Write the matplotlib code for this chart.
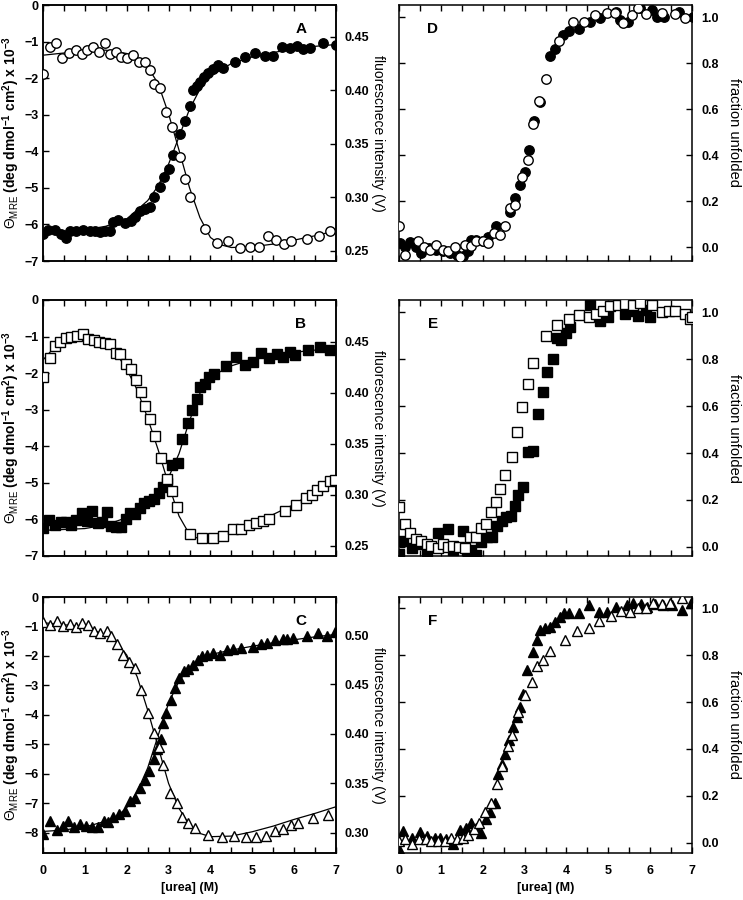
import numpy as np
import matplotlib
matplotlib.use("Agg")
import matplotlib.pyplot as plt

plt.rcParams['font.family'] = ['Liberation Sans', 'DejaVu Sans']
plt.rcParams['mathtext.fontset'] = 'custom'
plt.rcParams['mathtext.rm'] = 'Liberation Sans:bold'
plt.rcParams['mathtext.it'] = 'Liberation Sans:bold'
plt.rcParams['mathtext.sf'] = 'Liberation Sans'
plt.rcParams['axes.linewidth'] = 1.1

# ---------------- data ----------------
# panel A : filled circles (CD, left axis), open circles (fluorescence, right axis)
a_fill_x = [0.0, 0.12, 0.28, 0.44, 0.56, 0.65, 0.8, 0.96, 1.12, 1.24, 1.36, 1.47, 1.59, 1.67, 1.79,
            1.95, 2.11, 2.19, 2.31, 2.43, 2.55, 2.66, 2.79, 2.89, 3.01, 3.11, 3.27, 3.4, 3.51, 3.59,
            3.67, 3.75, 3.84, 3.95, 4.07, 4.19, 4.3, 4.58, 4.82, 5.06, 5.3, 5.5, 5.7, 5.9, 6.06,
            6.22, 6.38, 6.7, 7.0]
a_fill_y = [-6.27, -6.16, -6.16, -6.25, -6.36, -6.17, -6.17, -6.16, -6.17, -6.19, -6.22, -6.17, -6.17,
            -5.92, -5.88, -5.95, -5.9, -5.81, -5.62, -5.58, -5.53, -5.24, -4.98, -4.71, -4.48, -4.09,
            -3.54, -3.17, -2.77, -2.33, -2.22, -2.1, -1.96, -1.85, -1.76, -1.64, -1.73, -1.55, -1.43,
            -1.3, -1.39, -1.39, -1.14, -1.18, -1.13, -1.2, -1.18, -1.05, -1.09]
a_open_x = [0.0, 0.16, 0.32, 0.46, 0.62, 0.78, 0.92, 1.05, 1.2, 1.34, 1.48, 1.59, 1.75, 1.87, 2.01,
            2.15, 2.3, 2.43, 2.55, 2.65, 2.79, 2.93, 3.09, 3.27, 3.39, 3.52, 3.87, 4.16, 4.43, 4.7,
            4.94, 5.17, 5.38, 5.56, 5.76, 5.92, 6.3, 6.6, 6.86]
a_open_y = [0.415, 0.4406, 0.4444, 0.4306, 0.435, 0.4375, 0.4338, 0.4375, 0.44, 0.4359, 0.4438, 0.4338,
            0.4359, 0.4313, 0.4306, 0.4328, 0.4266, 0.4266, 0.4194, 0.4063, 0.4025, 0.3797, 0.3656,
            0.3375, 0.3172, 0.30, 0.2703, 0.2569, 0.2588, 0.2531, 0.2538, 0.2538, 0.2641, 0.26,
            0.2563, 0.2594, 0.2609, 0.2641, 0.2681]
a_fitf_x = [0.0, 1.0, 1.5, 2.0, 2.5, 2.75, 3.0, 3.25, 3.5, 3.75, 4.0, 4.5, 5.0, 5.5, 6.0, 6.5, 7.0]
a_fitf_y = [-6.22, -6.15, -6.05, -5.85, -5.35, -4.95, -4.35, -3.6, -2.85, -2.3, -1.95, -1.6, -1.42,
            -1.3, -1.2, -1.13, -1.08]
a_fito_x = [0.0, 1.0, 1.5, 2.0, 2.5, 2.75, 3.0, 3.25, 3.5, 3.75, 4.0, 4.25, 4.5, 5.0, 5.5, 6.0, 6.5, 7.0]
a_fito_y = [0.4328, 0.4369, 0.4375, 0.4344, 0.4219, 0.4063, 0.378, 0.344, 0.309, 0.281, 0.2625,
            0.2556, 0.2531, 0.2538, 0.2563, 0.26, 0.2641, 0.2688]

# panel B : filled squares (left axis), open squares (right axis)
b_fill_x = [0.0, 0.14, 0.28, 0.44, 0.56, 0.68, 0.8, 0.92, 1.05, 1.18, 1.32, 1.42, 1.53, 1.63, 1.75,
            1.87, 1.98, 2.09, 2.19, 2.31, 2.41, 2.54, 2.65, 2.78, 2.87, 2.97, 3.09, 3.23, 3.33, 3.47,
            3.57, 3.67, 3.76, 3.87, 3.97, 4.08, 4.37, 4.61, 4.82, 5.02, 5.22, 5.41, 5.58, 5.73,
            5.89, 6.02, 6.34, 6.62, 6.86]
b_fill_y = [-6.24, -6.02, -6.15, -6.06, -6.08, -6.15, -6.02, -5.83, -6.03, -5.77, -6.11, -6.06, -5.81,
            -6.18, -6.2, -6.22, -6.0, -5.83, -5.85, -5.7, -5.56, -5.49, -5.45, -5.27, -5.1, -5.0,
            -4.51, -4.47, -3.81, -3.37, -3.0, -2.72, -2.37, -2.29, -2.1, -2.01, -1.81, -1.55, -1.78,
            -1.69, -1.44, -1.59, -1.47, -1.57, -1.41, -1.5, -1.37, -1.29, -1.38]
b_open_x = [0.0, 0.16, 0.28, 0.41, 0.54, 0.68, 0.81, 0.96, 1.08, 1.21, 1.34, 1.48, 1.61, 1.74, 1.85,
            1.98, 2.11, 2.22, 2.33, 2.43, 2.55, 2.67, 2.83, 2.97, 3.09, 3.21, 3.52, 3.79, 4.07, 4.31,
            4.53, 4.74, 4.93, 5.09, 5.26, 5.41, 5.78, 6.04, 6.28, 6.42, 6.54, 6.68, 6.86, 6.98]
b_open_y = [0.4152, 0.4337, 0.4458, 0.45, 0.4533, 0.4549, 0.4559, 0.4572, 0.4523, 0.4516, 0.45, 0.449,
            0.4477, 0.4393, 0.438, 0.4282, 0.423, 0.412, 0.4012, 0.3872, 0.3742, 0.358, 0.3362,
            0.3157, 0.3037, 0.2884, 0.2614, 0.2581, 0.2581, 0.2598, 0.2663, 0.2669, 0.2702, 0.2721,
            0.2744, 0.2767, 0.2841, 0.2897, 0.2972, 0.3004, 0.3046, 0.3092, 0.3134, 0.3144]
b_fitf_x = [0.0, 1.0, 1.5, 2.0, 2.5, 2.75, 3.0, 3.25, 3.5, 3.75, 4.0, 4.5, 5.0, 5.5, 6.0, 6.5, 7.0]
b_fitf_y = [-6.3, -6.25, -6.15, -5.95, -5.6, -5.3, -4.85, -4.2, -3.3, -2.55, -2.1, -1.8, -1.62, -1.5,
            -1.43, -1.37, -1.33]
b_fito_x = [0.0, 0.25, 0.5, 0.75, 1.0, 1.25, 1.5, 1.75, 2.0, 2.25, 2.5, 2.75, 3.0, 3.25, 3.5, 3.75,
            4.0, 4.5, 5.0, 5.5, 6.0, 6.5, 7.0]
b_fito_y = [0.4321, 0.4435, 0.451, 0.4549, 0.4559, 0.4533, 0.4484, 0.4386, 0.423, 0.4028, 0.3752,
            0.3443, 0.3102, 0.2793, 0.2614, 0.2565, 0.2572, 0.2646, 0.2728, 0.2809, 0.2907, 0.3037,
            0.3157]

# panel C : filled triangles (left axis), open triangles (right axis)
c_fill_x = [0.0, 0.16, 0.33, 0.48, 0.6, 0.73, 0.88, 1.02, 1.16, 1.32, 1.45, 1.55, 1.67, 1.82, 1.95,
            2.07, 2.19, 2.31, 2.43, 2.54, 2.65, 2.73, 2.83, 2.87, 2.95, 3.05, 3.15, 3.25, 3.37, 3.47,
            3.59, 3.71, 3.81, 3.92, 4.07, 4.23, 4.39, 4.55, 4.74, 5.02, 5.2, 5.34, 5.54, 5.73, 5.84,
            5.98, 6.3, 6.58, 6.79, 6.98]
c_fill_y = [-8.02, -7.58, -7.91, -7.75, -7.58, -7.8, -7.69, -7.75, -7.8, -7.8, -7.61, -7.64, -7.47,
            -7.36, -7.25, -6.92, -6.81, -6.48, -6.21, -5.91, -5.49, -5.16, -4.81, -4.28, -3.95,
            -3.49, -3.07, -2.74, -2.52, -2.43, -2.3, -2.13, -1.99, -1.95, -1.91, -1.97, -1.8, -1.75,
            -1.72, -1.69, -1.58, -1.55, -1.47, -1.42, -1.44, -1.39, -1.31, -1.22, -1.33, -1.17]
c_open_x = [0.0, 0.16, 0.33, 0.48, 0.64, 0.8, 0.94, 1.08, 1.21, 1.36, 1.52, 1.63, 1.77, 1.91, 2.06,
            2.19, 2.35, 2.51, 2.65, 2.78, 2.87, 3.03, 3.19, 3.33, 3.47, 3.63, 3.95, 4.27, 4.56, 4.85,
            5.09, 5.33, 5.54, 5.74, 5.92, 6.1, 6.46, 6.82]
c_open_y = [0.5135, 0.5101, 0.5145, 0.5091, 0.5111, 0.5084, 0.5118, 0.5101, 0.5044, 0.5024, 0.5044,
            0.499, 0.4909, 0.4798, 0.473, 0.4663, 0.4443, 0.4207, 0.4005, 0.3863, 0.3685, 0.3398,
            0.3304, 0.3162, 0.3101, 0.3044, 0.2976, 0.2953, 0.2966, 0.2953, 0.296, 0.2966, 0.302,
            0.3034, 0.3078, 0.3101, 0.3145, 0.3179]
c_fitf_x = [0.0, 0.5, 1.0, 1.5, 1.75, 2.0, 2.25, 2.5, 2.75, 3.0, 3.25, 3.5, 3.75, 4.0, 4.5, 5.0, 5.5,
            6.0, 6.5, 7.0]
c_fitf_y = [-7.95, -7.9, -7.8, -7.6, -7.45, -7.15, -6.6, -5.8, -4.7, -3.6, -2.85, -2.4, -2.1, -1.95,
            -1.8, -1.67, -1.55, -1.45, -1.35, -1.27]
c_fito_x = [0.0, 1.0, 1.5, 1.75, 2.0, 2.25, 2.5, 2.75, 3.0, 3.25, 3.5, 3.75, 4.0, 4.5, 5.0, 5.5, 6.0,
            6.5, 7.0]
c_fito_y = [0.5125, 0.5084, 0.50, 0.4933, 0.4798, 0.4578, 0.4241, 0.387, 0.3499, 0.3246, 0.3078,
            0.2993, 0.296, 0.2966, 0.301, 0.3067, 0.3135, 0.3196, 0.3263]

# panel D : fraction unfolded, circles
d_fill_x = [0.02, 0.14, 0.26, 0.4, 0.53, 0.72, 0.88, 1.04, 1.21, 1.39, 1.53, 1.65, 1.73, 1.85, 2.01,
            2.13, 2.31, 2.65, 2.77, 2.89, 3.01, 3.11, 3.22, 3.37, 3.61, 3.73, 3.93, 4.05, 4.29, 4.57,
            4.8, 5.19, 5.27, 5.48, 5.76, 6.04, 6.16, 6.32, 6.68, 7.02]
d_fill_y = [0.019, 0.0, 0.023, 0.0, -0.024, -0.003, -0.01, -0.017, -0.024, -0.032, -0.039, -0.017,
            0.033, 0.033, 0.026, 0.047, 0.091, 0.155, 0.213, 0.27, 0.328, 0.421, 0.55, 0.632, 0.833,
            0.862, 0.924, 0.938, 0.948, 0.981, 0.996, 1.024, 0.989, 0.981, 1.039, 1.032, 1.0, 1.003,
            1.024, 1.0]
d_open_x = [0.0, 0.14, 0.45, 0.59, 0.75, 0.89, 1.04, 1.17, 1.33, 1.45, 1.57, 1.73, 1.85, 2.0, 2.13,
            2.27, 2.41, 2.53, 2.65, 2.77, 2.93, 3.09, 3.21, 3.35, 3.51, 3.83, 4.15, 4.42, 4.68, 4.96,
            5.16, 5.36, 5.56, 5.72, 5.91, 6.28, 6.6, 6.84]
d_open_y = [0.095, -0.034, 0.026, 0.0, -0.01, 0.011, -0.01, -0.017, 0.0, -0.043, 0.009, 0.004, 0.029,
            0.029, 0.019, 0.062, 0.055, 0.091, 0.17, 0.184, 0.306, 0.378, 0.536, 0.637, 0.73, 0.895,
            0.981, 0.981, 1.01, 1.017, 1.02, 0.974, 1.01, 1.039, 1.014, 1.017, 1.014, 0.996]

# panel E : fraction unfolded, squares
e_fill_x = [0.0, 0.1, 0.3, 0.49, 0.67, 0.93, 1.17, 1.29, 1.52, 1.65, 1.73, 1.85, 1.97, 2.11, 2.23,
            2.33, 2.45, 2.55, 2.67, 2.77, 2.85, 2.97, 3.09, 3.21, 3.33, 3.43, 3.54, 3.67, 3.77, 3.86,
            3.99, 4.09, 4.56, 4.8, 5.0, 5.4, 5.6, 5.72, 5.9, 6.0]
e_fill_y = [-0.031, 0.023, -0.003, 0.011, -0.017, 0.061, 0.076, -0.014, 0.066, -0.031, -0.014, -0.034,
            0.019, 0.043, 0.043, 0.09, 0.111, 0.126, 0.133, 0.175, 0.223, 0.254, 0.404, 0.411, 0.565,
            0.66, 0.746, 0.803, 0.889, 0.882, 0.913, 0.939, 1.031, 0.964, 0.981, 0.993, 1.007, 0.984,
            1.01, 0.981]
e_open_x = [0.0, 0.14, 0.26, 0.4, 0.53, 0.67, 0.77, 0.93, 1.05, 1.17, 1.29, 1.44, 1.57, 1.69, 1.84,
            1.97, 2.09, 2.19, 2.31, 2.41, 2.53, 2.69, 2.81, 2.95, 3.09, 3.21, 3.51, 3.78, 4.07, 4.31,
            4.53, 4.71, 4.88, 5.04, 5.24, 5.4, 5.59, 5.76, 6.04, 6.28, 6.44, 6.6, 6.84, 6.96, 7.0]
e_open_y = [0.168, 0.097, 0.057, 0.033, 0.023, 0.011, 0.004, -0.003, 0.011, 0.0, 0.004, 0.0, -0.003,
            0.043, 0.04, 0.08, 0.097, 0.147, 0.19, 0.247, 0.308, 0.385, 0.489, 0.596, 0.693, 0.785,
            0.899, 0.946, 0.97, 0.989, 0.981, 0.993, 1.007, 1.027, 1.031, 1.036, 1.031, 1.041, 1.031,
            1.003, 1.007, 1.007, 0.993, 0.97, 0.979]

# panel F : fraction unfolded, triangles
f_fill_x = [0.0, 0.1, 0.3, 0.49, 0.67, 0.85, 0.97, 1.13, 1.29, 1.45, 1.61, 1.73, 1.85, 1.97, 2.07,
            2.17, 2.29, 2.37, 2.45, 2.53, 2.63, 2.73, 2.81, 2.89, 2.97, 3.05, 3.19, 3.29, 3.38, 3.49,
            3.61, 3.73, 3.85, 3.94, 4.07, 4.31, 4.55, 4.79, 4.96, 5.19, 5.44, 5.6, 5.78, 5.92, 6.12,
            6.31, 6.52, 6.76, 6.98]
f_fill_y = [-0.029, 0.05, 0.021, 0.047, 0.029, 0.021, 0.019, 0.014, -0.007, 0.053, 0.064, 0.086,
            0.064, 0.043, 0.1, 0.129, 0.171, 0.293, 0.336, 0.379, 0.436, 0.493, 0.536, 0.579, 0.636,
            0.736, 0.814, 0.864, 0.907, 0.914, 0.919, 0.943, 0.964, 0.979, 0.979, 0.979, 1.014,
            0.986, 0.986, 1.007, 1.014, 1.021, 1.019, 1.007, 1.019, 1.014, 1.014, 0.993, 1.021]
f_open_x = [0.0, 0.14, 0.3, 0.48, 0.64, 0.77, 0.93, 1.09, 1.25, 1.39, 1.53, 1.65, 1.79, 1.92, 2.05,
            2.19, 2.33, 2.47, 2.61, 2.71, 2.85, 3.01, 3.17, 3.29, 3.43, 3.61, 3.97, 4.26, 4.53, 4.79,
            5.06, 5.3, 5.52, 5.72, 5.9, 6.08, 6.28, 6.48, 6.76]
f_open_y = [0.007, 0.014, -0.007, 0.014, 0.014, 0.007, 0.007, 0.007, 0.019, 0.014, 0.021, 0.033,
            0.057, 0.086, 0.129, 0.171, 0.25, 0.329, 0.414, 0.461, 0.557, 0.629, 0.686, 0.753, 0.781,
            0.819, 0.864, 0.904, 0.914, 0.947, 0.967, 0.99, 0.986, 1.0, 1.0, 1.021, 1.019, 1.024,
            1.043]

urea_ticks = np.arange(0, 7.01, 0.5)
theta_label = r'$\mathsf{\Theta_{MRE}}$ (deg dmol$^{-1}$ cm$^{2}$) x 10$^{-3}$'

# ---------------- figure ----------------
fig = plt.figure(figsize=(7.43, 9.0), dpi=100)

col_x = [43 / 743, 399 / 743]
w = 293 / 743
h = 256 / 900
row_y = [1 - 261 / 900, 1 - 556 / 900, 1 - 853 / 900]

ms = 6.8
lw = 0.9
tsize = 9


def style_x(ax, bottom_row):
    ax.set_xlim(0, 7)
    ax.set_xticks(urea_ticks)
    ax.set_xticklabels([str(int(t)) if t == int(t) else '' for t in urea_ticks])
    ax.tick_params(axis='x', direction='in', length=4, width=1, top=True, pad=9,
                   labelbottom=bottom_row, labelsize=tsize)
    for lab in ax.get_xticklabels():
        lab.set_fontweight('bold')
    if bottom_row:
        ax.set_xlabel('[urea] (M)', fontsize=9, fontweight='bold', va='center')
        ax.xaxis.set_label_coords(0.5, -0.137)


def left_panel(row, letter, marker, fx, fy, ox, oy, ffx, ffy, fox, foy, ylim_l, ylim_r, rticks):
    ax = fig.add_axes([col_x[0], row_y[row], w, h])
    ax.plot(ffx, ffy, '-', color='k', lw=lw, zorder=2)
    ax.plot(fx, fy, linestyle='none', marker=marker, ms=ms, mfc='k', mec='k', zorder=3)
    ax.set_ylim(*ylim_l)
    ax.set_yticks(np.arange(int(np.ceil(ylim_l[0])), 0.01, 1))
    ax.tick_params(axis='y', direction='in', length=4, width=1, pad=3, labelsize=tsize)
    for lab in ax.get_yticklabels():
        lab.set_fontweight('bold')
    ax.set_ylabel(theta_label, fontsize=10, fontweight='bold', va='center')
    ax.yaxis.set_label_coords(-0.108, 0.5)
    style_x(ax, row == 2)
    ax2 = ax.twinx()
    ax2.plot(fox, foy, '-', color='k', lw=lw, zorder=2)
    ax2.plot(ox, oy, linestyle='none', marker=marker, ms=ms, mfc='white', mec='k', mew=1.0, zorder=3)
    ax2.set_ylim(*ylim_r)
    ax2.set_yticks(rticks)
    ax2.set_yticklabels(['%.2f' % t for t in rticks])
    ax2.tick_params(axis='y', direction='in', length=4, width=1, pad=6, labelsize=tsize)
    for lab in ax2.get_yticklabels():
        lab.set_fontweight('bold')
    ax.text(0.88, 0.905, letter, transform=ax.transAxes, fontsize=11, fontweight='bold',
            ha='center', va='center')
    return ax


def right_panel(row, letter, marker, fx, fy, ox, oy, ylim, flabel):
    ax = fig.add_axes([col_x[1], row_y[row], w, h])
    ax.plot(fx, fy, linestyle='none', marker=marker, ms=ms, mfc='k', mec='k', zorder=3)
    ax.plot(ox, oy, linestyle='none', marker=marker, ms=ms, mfc='white', mec='k', mew=1.0, zorder=4)
    ax.set_ylim(*ylim)
    ticks = [0.0, 0.2, 0.4, 0.6, 0.8, 1.0]
    ax.set_yticks(ticks)
    ax.set_yticklabels(['%.1f' % t for t in ticks])
    ax.yaxis.tick_right()
    ax.tick_params(axis='y', direction='in', length=4, width=1, left=True, right=True,
                   labelleft=False, labelright=True, pad=7, labelsize=tsize)
    for lab in ax.get_yticklabels():
        lab.set_fontweight('bold')
    ax.yaxis.set_label_position('right')
    ax.set_ylabel('fraction unfolded', fontsize=10.5, rotation=270, va='center')
    ax.yaxis.set_label_coords(1.145, 0.5)
    ax.text(-0.072, 0.5, flabel, transform=ax.transAxes, fontsize=10, rotation=270,
            ha='center', va='center')
    style_x(ax, row == 2)
    ax.text(0.115, 0.905, letter, transform=ax.transAxes, fontsize=11, fontweight='bold',
            ha='center', va='center')
    return ax


left_panel(0, 'A', 'o', a_fill_x, a_fill_y, a_open_x, a_open_y, a_fitf_x, a_fitf_y, a_fito_x, a_fito_y,
           (-7, 0), (0.2405, 0.4797), [0.25, 0.30, 0.35, 0.40, 0.45])
left_panel(1, 'B', 's', b_fill_x, b_fill_y, b_open_x, b_open_y, b_fitf_x, b_fitf_y, b_fito_x, b_fito_y,
           (-7, 0), (0.2402, 0.4908), [0.25, 0.30, 0.35, 0.40, 0.45])
left_panel(2, 'C', '^', c_fill_x, c_fill_y, c_open_x, c_open_y, c_fitf_x, c_fitf_y, c_fito_x, c_fito_y,
           (-8.68, 0), (0.2795, 0.5385), [0.30, 0.35, 0.40, 0.45, 0.50])

right_panel(0, 'D', 'o', d_fill_x, d_fill_y, d_open_x, d_open_y, (-0.059, 1.053),
            'fluorescnece intensity (V)')
right_panel(1, 'E', 's', e_fill_x, e_fill_y, e_open_x, e_open_y, (-0.039, 1.053),
            'fluorescence intensity (V)')
right_panel(2, 'F', '^', f_fill_x, f_fill_y, f_open_x, f_open_y, (-0.044, 1.048),
            'fluorescence intensity (V)')

fig.savefig('out.png', dpi=100)
